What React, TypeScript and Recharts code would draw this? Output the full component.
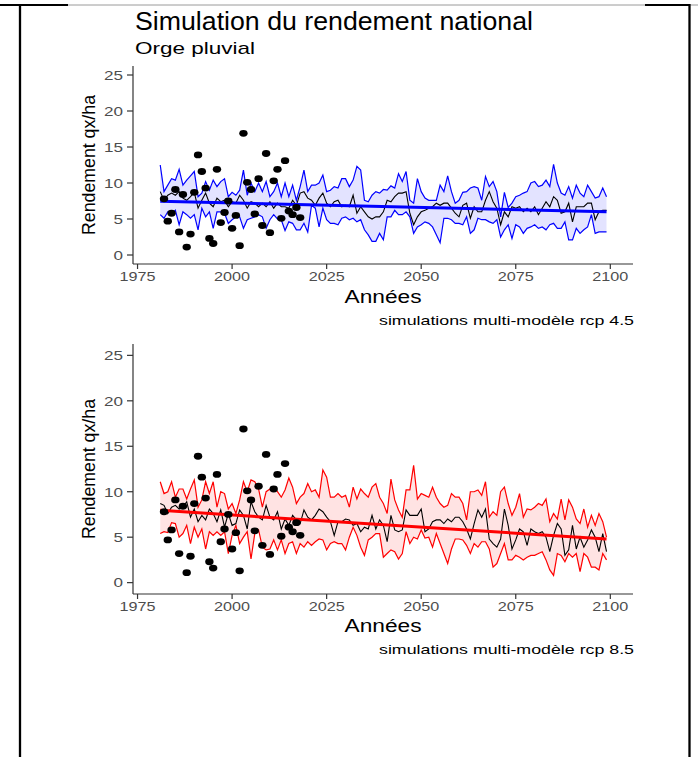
import { Area, ComposedChart, Line, Scatter, XAxis, YAxis } from 'recharts';

// simulated years run from 1981 to 2099
const FIRST_YEAR = 1981;

const xTicks = [1975, 2000, 2025, 2050, 2075, 2100];
const yTicks = [0, 5, 10, 15, 20, 25];

// rcp 4.5 multi-model envelope (qx/ha)
const rcp45High = [
  12.5, 8.8, 9.7, 10.6, 10.4, 11.9, 9.7, 10.4, 11.0, 11.6,
  8.1, 8.6, 10.2, 9.0, 10.4, 9.5, 10.2, 10.6, 8.1, 8.7,
  8.3, 9.0, 11.8, 8.3, 10.0, 8.8, 10.0, 8.8, 10.2, 8.1,
  8.8, 10.0, 8.1, 10.0, 8.1, 9.7, 7.6, 9.5, 11.8, 8.8,
  9.7, 9.7, 10.0, 11.1, 8.8, 9.0, 9.5, 9.3, 10.6, 10.6,
  9.5, 10.4, 12.3, 11.8, 7.6, 7.4, 8.3, 8.8, 8.6, 9.1,
  9.0, 9.6, 9.3, 11.3, 10.2, 11.6, 7.6, 7.2, 10.6, 8.8,
  7.9, 7.6, 7.6, 7.6, 9.7, 8.8, 11.0, 8.8, 7.2, 7.6,
  8.7, 8.8, 9.3, 9.5, 9.3, 7.6, 10.9, 9.5, 10.2, 8.8,
  5.3, 8.7, 6.6, 7.2, 8.1, 8.3, 8.6, 8.8, 10.0, 10.2,
  9.5, 9.7, 10.4, 9.5, 12.6, 10.0, 8.6, 8.3, 9.5, 7.9,
  9.7, 8.6, 8.1, 9.7, 8.8, 7.9, 8.1, 9.3, 8.1,
];
const rcp45Median = [
  8.8, 7.6, 8.3, 8.6, 8.3, 8.8, 7.9, 7.6, 8.1, 8.7,
  6.5, 7.6, 8.6, 7.2, 6.7, 7.9, 7.4, 7.6, 6.7, 7.4,
  7.2, 8.3, 7.6, 6.5, 7.4, 7.2, 6.7, 7.2, 6.7, 7.4,
  6.5, 7.2, 6.7, 6.7, 6.5, 7.6, 6.9, 8.6, 8.8, 7.9,
  7.6, 6.9, 7.9, 8.6, 7.2, 6.7, 7.4, 7.6, 6.7, 6.9,
  6.7, 8.3, 5.8, 6.7, 6.0, 5.3, 5.0, 5.3, 5.3, 6.0,
  7.6, 7.4, 8.1, 8.6, 8.6, 8.8, 5.8, 4.2, 5.3, 6.0,
  6.2, 6.5, 6.7, 7.2, 6.9, 7.2, 7.2, 6.5, 5.8, 5.3,
  6.9, 7.2, 5.1, 6.7, 6.0, 6.0, 7.6, 8.8, 7.4, 6.5,
  4.2, 6.0, 5.3, 6.7, 6.5, 6.7, 6.0, 6.5, 6.0, 6.7,
  5.6, 6.5, 7.4, 6.7, 8.1, 7.6, 5.8, 6.0, 7.2, 4.6,
  6.7, 6.7, 6.7, 7.2, 7.2, 4.9, 6.0, 6.2, 6.2,
];
const rcp45Low = [
  5.6, 5.1, 6.0, 5.6, 6.2, 4.2, 6.0, 5.6, 5.1, 5.6,
  3.5, 6.5, 5.3, 6.0, 3.7, 6.0, 6.0, 5.8, 4.4, 4.9,
  5.3, 5.3, 3.7, 4.9, 5.1, 5.3, 5.6, 5.3, 3.7, 4.9,
  5.6, 5.0, 4.9, 3.4, 4.6, 4.4, 3.5, 3.5, 4.4, 3.2,
  6.9, 6.5, 3.9, 6.5, 4.9, 4.4, 4.4, 4.2, 5.1, 5.3,
  4.9, 5.1, 4.6, 4.9, 3.5, 2.8, 1.9, 1.9, 3.0, 2.1,
  5.3, 5.3, 6.2, 5.6, 5.6, 6.0, 5.3, 3.0, 3.9, 4.2,
  4.6, 4.4, 3.9, 2.8, 1.7, 5.1, 5.1, 4.9, 4.4, 4.4,
  4.2, 5.3, 3.0, 3.5, 5.1, 4.9, 4.9, 4.6, 4.4, 4.9,
  2.5, 3.5, 4.2, 2.3, 4.2, 3.9, 3.0, 3.7, 3.9, 4.2,
  3.7, 3.9, 3.5, 4.2, 4.4, 3.7, 3.7, 4.6, 2.1, 2.1,
  3.7, 3.0, 3.5, 3.9, 5.6, 3.0, 3.2, 3.2, 3.2,
];

// rcp 8.5 multi-model envelope (qx/ha)
const rcp85High = [
  11.1, 9.8, 10.0, 11.1, 9.4, 10.3, 10.3, 9.2, 10.3, 11.3,
  8.3, 9.1, 11.1, 9.8, 11.1, 8.3, 10.0, 9.8, 8.1, 8.7,
  7.6, 9.1, 11.1, 10.0, 11.3, 11.1, 10.3, 8.3, 10.0, 10.3,
  10.5, 10.0, 9.4, 10.2, 11.5, 10.5, 8.7, 9.4, 9.8, 10.9,
  10.0, 10.2, 9.4, 12.4, 11.6, 9.4, 9.4, 9.8, 9.4, 9.6,
  8.3, 10.5, 9.2, 10.3, 9.8, 9.4, 10.5, 10.9, 9.4, 8.7,
  7.6, 11.4, 9.1, 8.0, 7.2, 10.2, 10.2, 12.9, 9.2, 9.8,
  9.6, 9.4, 10.5, 9.4, 8.7, 8.3, 8.5, 9.8, 9.4, 9.4,
  8.7, 6.9, 10.0, 10.0, 10.2, 9.6, 11.1, 7.2, 7.8, 7.4,
  10.0, 10.5, 8.7, 7.4, 8.3, 9.8, 7.2, 8.1, 8.0, 8.3,
  8.7, 8.5, 9.2, 6.7, 7.6, 7.0, 9.2, 6.9, 9.1, 8.3,
  7.0, 6.5, 8.1, 6.1, 7.4, 6.3, 7.6, 6.7, 5.0,
];
const rcp85Median = [
  8.7, 8.5, 7.6, 8.3, 8.5, 8.1, 8.3, 8.9, 7.2, 8.1,
  6.7, 7.4, 6.9, 8.1, 7.6, 6.7, 8.0, 6.1, 7.6, 6.3,
  6.5, 8.0, 7.4, 5.9, 8.9, 7.8, 7.2, 6.9, 8.5, 7.2,
  6.9, 7.8, 5.9, 7.0, 6.3, 7.4, 6.9, 6.5, 8.0, 7.2,
  6.9, 7.4, 8.1, 7.8, 7.2, 6.7, 5.2, 6.7, 6.7, 7.0,
  6.9, 6.3, 6.5, 5.6, 6.1, 5.9, 7.4, 5.9, 6.9, 6.3,
  4.5, 7.4, 5.8, 5.6, 5.8, 8.0, 7.4, 7.4, 7.4, 8.1,
  5.6, 5.9, 6.7, 6.9, 6.9, 6.5, 7.0, 6.7, 7.2, 7.2,
  6.7, 5.9, 4.8, 6.5, 8.0, 7.2, 8.1, 4.8, 4.3, 3.9,
  4.8, 8.1, 6.3, 3.7, 4.7, 5.9, 5.6, 4.1, 5.9, 5.6,
  5.4, 5.6, 5.0, 3.4, 5.2, 6.5, 5.9, 3.0, 3.6, 6.3,
  3.7, 5.0, 3.9, 4.7, 5.8, 5.0, 3.4, 5.4, 3.4,
];
const rcp85Low = [
  5.4, 5.6, 5.5, 6.6, 6.5, 5.0, 5.4, 6.3, 4.3, 6.1,
  5.0, 5.9, 3.7, 5.6, 5.2, 5.6, 5.2, 5.6, 3.2, 5.2,
  6.3, 4.3, 5.0, 5.6, 2.6, 5.4, 5.8, 3.9, 3.6, 3.7,
  4.7, 3.6, 4.7, 3.2, 4.3, 4.5, 3.2, 4.3, 3.9, 4.5,
  4.1, 4.5, 4.8, 4.7, 3.6, 4.3, 4.5, 4.3, 4.3, 3.6,
  5.0, 6.1, 5.2, 3.9, 3.0, 4.7, 5.0, 5.4, 5.4, 2.8,
  3.2, 3.6, 3.4, 2.6, 3.2, 5.6, 4.3, 5.0, 4.8, 5.8,
  4.9, 5.0, 3.9, 5.4, 4.3, 3.2, 2.1, 3.7, 4.8, 4.8,
  4.7, 4.1, 3.2, 4.3, 3.9, 4.5, 4.5, 3.7, 1.7, 2.1,
  3.2, 4.3, 2.5, 2.5, 3.0, 2.8, 2.5, 2.8, 3.0, 3.0,
  3.2, 3.4, 2.5, 1.4, 0.8, 3.2, 3.0, 2.3, 3.2, 2.8,
  3.2, 1.2, 3.2, 2.8, 1.7, 1.7, 1.4, 3.2, 2.5,
];

// observed national yield
const obsYears = [
  1982, 1983, 1984, 1985, 1986, 1987, 1988, 1989, 1990, 1991,
  1992, 1993, 1994, 1995, 1996, 1997, 1998, 1999, 2000, 2001,
  2002, 2003, 2004, 2005, 2006, 2007, 2008, 2009, 2010, 2011,
  2012, 2013, 2014, 2015, 2016, 2017, 2018,
];
const obsYield = [
  7.8, 4.7, 5.8, 9.1, 3.2, 8.4, 1.1, 2.9, 8.7, 13.9,
  11.6, 9.3, 2.3, 1.6, 11.9, 4.5, 5.9, 7.5, 3.7, 5.5,
  1.3, 16.9, 10.1, 9.1, 5.7, 10.6, 4.1, 14.1, 3.1, 10.3,
  11.9, 5.1, 13.1, 6.1, 5.6, 6.6, 5.2,
];

// linear trend of the median, start and end year
const trendYears = [1981, 2099];
const trend45 = [7.45, 6.0];
const trend85 = [7.95, 4.8];

const FONT = '"Liberation Sans", Arial, Helvetica, sans-serif';
const axisStyle = { stroke: '#333333', strokeWidth: 1.2 };

function buildRows(low: number[], median: number[], high: number[]) {
  return median.map((m, i) => ({
    year: FIRST_YEAR + i,
    low: low[i],
    median: m,
    high: high[i],
    band: [low[i], high[i]],
  }));
}

const rows45 = buildRows(rcp45Low, rcp45Median, rcp45High);
const rows85 = buildRows(rcp85Low, rcp85Median, rcp85High);
const obsPoints = obsYears.map((year, i) => ({ year, value: obsYield[i] }));
const trendRows45 = trendYears.map((year, i) => ({ year, trend: trend45[i] }));
const trendRows85 = trendYears.map((year, i) => ({ year, trend: trend85[i] }));

function XTick(props: any) {
  const label = String(props.payload.value);
  return (
    <text
      x={props.x}
      y={props.y}
      dy="0.71em"
      textAnchor="middle"
      fontSize={13.5}
      fontFamily={FONT}
      fill="#4d4d4d"
      textLength={label.length * 9}
      lengthAdjust="spacingAndGlyphs"
    >
      {label}
    </text>
  );
}

function YTick(props: any) {
  const label = String(props.payload.value);
  return (
    <text
      x={props.x}
      y={props.y}
      dy="0.355em"
      textAnchor="end"
      fontSize={13.5}
      fontFamily={FONT}
      fill="#4d4d4d"
      textLength={label.length * 9.5}
      lengthAdjust="spacingAndGlyphs"
    >
      {label}
    </text>
  );
}

function ObsDot(props: any) {
  return <ellipse cx={props.cx} cy={props.cy} rx={4.2} ry={3.4} fill="#000" />;
}

function Panel({
  rows,
  trendRows,
  color,
  top,
  plotTop,
  plotHeight,
}: {
  rows: ReturnType<typeof buildRows>;
  trendRows: { year: number; trend: number }[];
  color: string;
  top: number;
  plotTop: number;
  plotHeight: number;
}) {
  return (
    <div style={{ position: 'absolute', left: 0, top }}>
      <ComposedChart
        width={698}
        height={plotTop + plotHeight + 30}
        data={rows}
        margin={{ top: plotTop, right: 65, bottom: 0, left: 73 }}
      >
        <XAxis
          type="number"
          dataKey="year"
          domain={[1973.8, 2106]}
          allowDataOverflow
          ticks={xTicks}
          interval={0}
          height={30}
          tickSize={5}
          tickMargin={2}
          axisLine={axisStyle}
          tickLine={axisStyle}
          tick={XTick}
        />
        <YAxis
          type="number"
          domain={[-1.25, 26.25]}
          allowDataOverflow
          ticks={yTicks}
          interval={0}
          width={60}
          tickSize={6}
          tickMargin={4}
          axisLine={axisStyle}
          tickLine={axisStyle}
          tick={YTick}
        />
        <Area
          dataKey="band"
          stroke="none"
          fill={color}
          fillOpacity={0.11}
          isAnimationActive={false}
        />
        <Line dataKey="low" stroke={color} strokeWidth={1.2} dot={false} isAnimationActive={false} />
        <Line dataKey="high" stroke={color} strokeWidth={1.2} dot={false} isAnimationActive={false} />
        <Line dataKey="median" stroke="#000" strokeWidth={1.1} dot={false} isAnimationActive={false} />
        <Scatter data={obsPoints} dataKey="value" shape={ObsDot} isAnimationActive={false} />
        <Line
          data={trendRows}
          dataKey="trend"
          stroke={color}
          strokeWidth={3}
          dot={false}
          isAnimationActive={false}
        />
      </ComposedChart>
    </div>
  );
}

export default function App() {
  return (
    <div
      style={{
        position: 'absolute',
        left: 0,
        top: 0,
        width: 698,
        height: 757,
        background: '#fff',
        fontFamily: FONT,
      }}
    >
      <Panel rows={rows45} trendRows={trendRows45} color="#0000ff" top={0} plotTop={66} plotHeight={198} />
      <Panel rows={rows85} trendRows={trendRows85} color="#ff0000" top={300} plotTop={44} plotHeight={250} />

      <svg
        width={698}
        height={757}
        style={{ position: 'absolute', left: 0, top: 0, pointerEvents: 'none' }}
        fontFamily={FONT}
      >
        {/* page frame */}
        <line x1={0} y1={5} x2={698} y2={5} stroke="#9a9a9a" strokeWidth={1} />
        <line x1={0} y1={5} x2={68} y2={5} stroke="#000" strokeWidth={2} />
        <line x1={645} y1={5} x2={690} y2={5} stroke="#000" strokeWidth={2} />
        <line x1={20} y1={4} x2={20} y2={757} stroke="#000" strokeWidth={2.3} />
        <line x1={689.5} y1={4} x2={689.5} y2={757} stroke="#000" strokeWidth={2.3} />

        <text x={135} y={30} fontSize={25} textLength={398} lengthAdjust="spacingAndGlyphs" fill="#000">
          Simulation du rendement national
        </text>
        <text x={135} y={54} fontSize={17} textLength={120} lengthAdjust="spacingAndGlyphs" fill="#000">
          Orge pluvial
        </text>

        <text x={95} y={165} fontSize={18} textAnchor="middle" textLength={140} lengthAdjust="spacingAndGlyphs" transform="rotate(-90 95 165)" fill="#000">
          Rendement qx/ha
        </text>
        <text x={383} y={303} fontSize={17.5} textAnchor="middle" textLength={77} lengthAdjust="spacingAndGlyphs" fill="#000">
          Années
        </text>
        <text x={634} y={325} fontSize={13.5} textAnchor="end" textLength={255} lengthAdjust="spacingAndGlyphs" fill="#000">
          simulations multi-modèle rcp 4.5
        </text>

        <text x={95} y={469} fontSize={18} textAnchor="middle" textLength={140} lengthAdjust="spacingAndGlyphs" transform="rotate(-90 95 469)" fill="#000">
          Rendement qx/ha
        </text>
        <text x={383} y={632} fontSize={17.5} textAnchor="middle" textLength={77} lengthAdjust="spacingAndGlyphs" fill="#000">
          Années
        </text>
        <text x={634} y={654} fontSize={13.5} textAnchor="end" textLength={255} lengthAdjust="spacingAndGlyphs" fill="#000">
          simulations multi-modèle rcp 8.5
        </text>
      </svg>
    </div>
  );
}
